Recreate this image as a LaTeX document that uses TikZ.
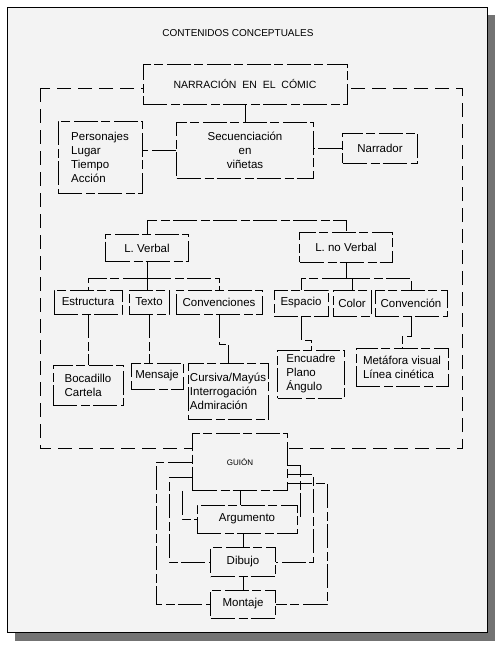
\documentclass[tikz,border=0pt]{standalone}
\usepackage{fontspec}
\setmainfont{Liberation Sans}
\definecolor{paper}{RGB}{243,243,243}

\begin{document}
\begin{tikzpicture}[x=1pt, y=-1pt,
    scan/.style={line width=0.8pt, dash pattern=on 24pt off 4pt on 9pt off 3pt},
    box/.style={scan, draw, fill=paper, inner sep=2pt, font=\fontsize{11.5}{14}\selectfont}]
    \useasboundingbox (0,0) rectangle (502,651);
    \fill[white] (0,0) rectangle (502,651);
    \fill[black!55] (15,15) rectangle (495,641);
    \filldraw[fill=paper, draw=black, line width=0.6pt] (7,7) rectangle (487,632);
    \node[font=\fontsize{10}{12}\selectfont] (titulo) at (238,33) {CONTENIDOS CONCEPTUALES};
    \draw[scan, dash pattern=on 14pt off 7pt] (40,88) rectangle (462,448);

    \node[box, minimum width=204, minimum height=40, font=\fontsize{10.5}{12}\selectfont] (narr) at (245,84) {NARRACIÓN\ \ EN\ \ EL\ \ CÓMIC};
    \node[box, minimum width=137, minimum height=56, align=center] (sec) at (245,150) {Secuenciación\\en\\viñetas};
    \node[box, minimum width=84, minimum height=72, align=left] (pers) at (100,157) {Personajes\\Lugar\\Tiempo\\Acción};
    \node[box, minimum width=75, minimum height=30] (narrador) at (380,148) {Narrador};
    \node[box, minimum width=83, minimum height=27] (lv) at (147,248) {L. Verbal};
    \node[box, minimum width=93, minimum height=30] (lnv) at (346,247) {L. no Verbal};
    \node[box, minimum width=68, minimum height=24] (estr) at (88,302) {Estructura};
    \node[box, minimum width=40, minimum height=24] (texto) at (149,302) {Texto};
    \node[box, minimum width=86, minimum height=24] (conv) at (219,302) {Convenciones};
    \node[box, minimum width=54, minimum height=26] (esp) at (301,303) {Espacio};
    \node[box, minimum width=38, minimum height=26] (color) at (352,303) {Color};
    \node[box, minimum width=72, minimum height=26] (conv2) at (411,303) {Convención};
    \node[box, minimum width=70, minimum height=40, align=left] (boca) at (88,385) {Bocadillo\\Cartela};
    \node[box, minimum width=52, minimum height=26] (mens) at (157,376) {Mensaje};
    \node[box, minimum width=80, minimum height=56, align=left] (curs) at (228,391) {Cursiva/Mayús\\Interrogación\\Admiración};
    \node[box, minimum width=67, minimum height=48, align=left] (encu) at (311,374) {Encuadre\\Plano\\Ángulo};
    \node[box, minimum width=92, minimum height=38, align=left] (meta) at (402,367) {Metáfora visual\\Línea cinética};
    \node[box, minimum width=95, minimum height=57, font=\fontsize{8}{10}\selectfont] (guion) at (240,462) {GUIÓN};
    \node[box, minimum width=100, minimum height=28] (arg) at (247,519) {Argumento};
    \node[box, minimum width=65, minimum height=29] (dib) at (243,562) {Dibujo};
    \node[box, minimum width=65, minimum height=28] (mont) at (243,604) {Montaje};

    \draw[scan] (narr) -- (sec);
    \draw[scan] (sec.west) -- (sec.west -| pers.east);
    \draw[scan] (narrador.west) -- (narrador.west -| sec.east);
    \draw[scan] (lv.north) -- ++(0,-14) -| (lnv.north);
    \draw[scan] (lv.south) -- ++(0,16) coordinate (lvj);
    \draw[scan] (lvj) -| (estr.north);
    \draw[scan] (lvj) -| (conv.north);
    \draw[scan] (lvj) -- (lvj |- texto.north);
    \draw[scan] (lnv.south) -- ++(0,16) coordinate (lnvj);
    \draw[scan] (lnvj) -| (esp.north);
    \draw[scan] (lnvj) -| (color.north);
    \draw[scan] (lnvj) -| (conv2.north);
    \draw[scan] (estr) -- (boca);
    \draw[scan] (texto.south) -- (texto.south |- mens.north);
    \draw[scan] (conv.south) -- ++(0,30) -| (curs.north);
    \draw[scan] (esp.south) -- ++(0,24) -| (encu.north);
    \draw[scan] (conv2.south) -- ++(0,20) -| (meta.north);
    \draw[scan] (guion.south) -- (guion.south |- arg.north);
    \draw[scan] ([xshift=-10pt]guion.south west) |- (arg.west);
    \draw[scan] ([yshift=-15pt]guion.west) -- ++(-23,0) |- (dib.west);
    \draw[scan] (guion.west) -- ++(-36,0) |- (mont.west);
    \draw[scan] ([yshift=-3pt]guion.east) -- ++(12,0) |- (arg.east);
    \draw[scan] ([yshift=-12pt]guion.east) -- ++(25,0) |- (dib.east);
    \draw[scan] ([yshift=-21pt]guion.east) -- ++(39,0) |- (mont.east);
    \draw[scan] (dib.north) -- (dib.north |- arg.south);
    \draw[scan] (dib) -- (mont);
\end{tikzpicture}
\end{document}
